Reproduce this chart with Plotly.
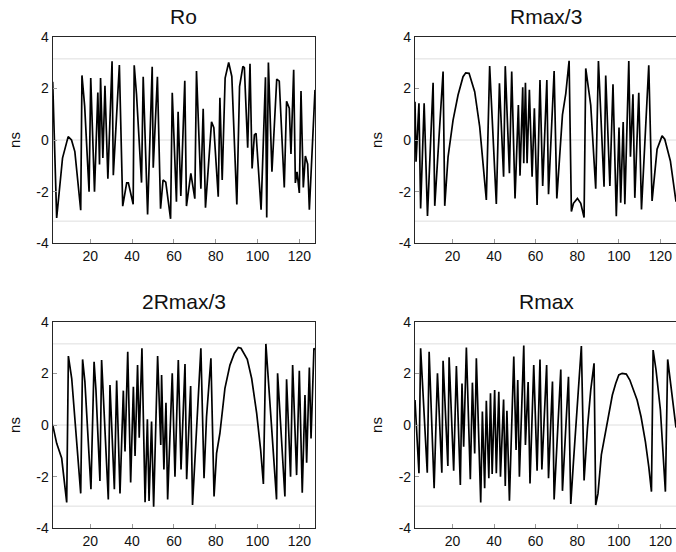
import math
import plotly.graph_objects as go

# ---------------- data ----------------
titles = ["Ro", "Rmax/3", "2Rmax/3", "Rmax"]
x_ticks = [20, 40, 60, 80, 100, 120]
y_ticks = [-4, -2, 0, 2, 4]
y_ticktext = ["-4", "-2", "0", "2", "4"]
ref_levels = [-math.pi, 0.0, math.pi]

ro_x = [2.0, 3.9, 6.7, 9.4, 11.0, 12.6, 15.4, 16.0, 17.3, 19.4, 20.2, 22.0, 23.6, 24.4, 24.9, 26.0, 27.0, 28.4,
        30.4, 31.0, 33.9, 35.5, 37.4, 38.2, 40.5, 41.0, 42.1, 44.5, 45.3, 47.4, 49.6, 50.1, 52.1, 53.6, 54.8,
        56.1, 58.4, 59.2, 61.2, 62.0, 63.3, 65.2, 66.0, 68.1, 70.0, 70.8, 72.9, 74.0, 75.1, 78.0, 79.1,
        81.2, 82.0, 83.1, 84.5, 86.2, 87.7, 90.1, 91.4, 93.0, 93.7, 95.3, 96.4, 97.4, 98.5, 99.3, 101.7, 103.8,
        104.4, 105.2, 106.9, 109.2, 110.4, 112.8, 113.9, 115.2, 116.0, 117.3, 118.1, 118.9, 120.0, 120.8, 121.9,
        122.9, 124.0, 124.8, 127.5]
ro_y = [2.25, -3.02, -0.7, 0.13, 0.0, -0.45, -2.72, 2.5, 1.3, -2.0, 2.4, -2.0, 1.84, -0.95, 2.4, -0.7, 2.1, -1.5,
        3.05, -1.36, 2.9, -2.56, -1.66, -1.66, -2.49, 2.89, 1.77, -1.65, 2.45, -2.88, 2.84, -1.07, 2.45, -2.66, -1.55,
        -1.63, -3.05, 1.83, -2.39, 1.09, -2.17, 2.29, -2.56, -1.29, -2.27, 2.67, -1.89, 1.21, -2.62, 0.7, 0.48,
        -2.2, 1.64, -1.55, 2.4, 3.0, 2.46, -2.5, 2.07, 2.85, 2.8, -0.3, 2.95, -1.1, 0.2, 0.26, -2.7, 2.43,
        -3.0, 3.0, -1.23, 2.36, 2.28, -1.84, 1.5, 1.23, -0.54, 2.72, -1.66, -1.23, -2.05, 1.9, -1.84,
        -0.62, -0.93, -2.7, 1.94]

r3_x = [2.0, 2.5, 3.9, 4.7, 6.4, 8.0, 10.7, 11.5, 15.5, 16.3, 17.9, 20.3, 22.7, 25.1, 26.4, 28.0, 30.7, 33.1,
        36.3, 37.9, 41.1, 42.6, 44.6, 45.4, 47.4, 48.5, 50.1, 51.7, 52.5, 53.8, 54.3, 55.1, 55.9, 57.0, 58.3,
        59.4, 60.7, 62.1, 63.4, 65.4, 66.2, 68.9, 70.2, 72.9, 74.5, 76.1, 77.2, 78.2, 80.1, 81.7, 83.3, 84.1,
        86.5, 88.9, 90.2, 92.9, 93.7, 95.7, 97.2, 98.8, 100.1, 100.9, 102.1, 102.9, 104.8, 105.6, 106.8, 107.7,
        109.6, 110.9, 114.4, 116.0, 118.4, 120.8, 122.1, 124.8, 127.5]
r3_y = [1.48, -0.84, 1.42, -2.65, 1.42, -2.94, 2.22, -2.55, 2.65, -2.55, -0.65, 0.77, 1.74, 2.45, 2.6, 2.58, 1.87, 0.52,
        -2.32, 2.86, -2.48, 2.2, -1.42, 2.86, -1.29, 2.65, -2.26, 1.35, -1.38, 2.04, -0.9, 2.22, -0.9, 1.94, -1.42,
        1.23, -2.52, 2.32, -1.78, 2.32, -2.1, 2.67, -2.26, 0.97, 1.8, 3.07, -2.77, -2.45, -2.26, -2.45, -3.0, 2.77,
        1.35, -1.89, 3.06, -1.81, 2.5, -1.78, 2.16, -2.95, 0.48, -2.43, 0.7, -2.49, 3.06, -0.65, 1.77, -2.24,
        1.83, -2.69, 2.89, -2.36, -0.36, 0.16, 0.03, -0.81, -2.39]

r23_x = [2.0, 3.9, 6.3, 8.7, 9.5, 11.1, 15.4, 16.3, 17.4, 20.3, 21.8, 22.7, 24.6, 25.4, 28.6, 29.4, 31.5, 32.6,
         34.2, 35.8, 36.6, 37.9, 39.3, 40.6, 41.4, 42.6, 43.4, 44.7, 46.2, 47.3, 48.1, 49.3, 50.3, 52.2, 53.7,
         54.1, 55.2, 56.2, 57.0, 59.2, 60.5, 62.1, 63.4, 65.3, 66.1, 68.0, 68.9, 70.9, 72.9, 74.4, 75.6, 77.7,
         79.2, 80.4, 82.0, 84.4, 86.8, 88.9, 90.8, 92.1, 93.2, 95.1, 97.2, 99.6, 101.5, 102.8, 104.0, 106.7,
         109.1, 109.6, 113.1, 113.9, 115.8, 116.8, 118.7, 120.0, 121.4, 122.7, 123.5, 124.8, 125.6, 127.0, 127.5]
r23_y = [0.0, -0.71, -1.29, -3.0, 2.67, 1.8, -2.65, 2.54, 1.68, -2.49, 2.45, 1.35, -2.17, 2.52, -2.88, 1.55, -2.49, 1.72,
         -2.65, 1.33, -1.03, 2.84, -2.23, 1.48, -1.2, 2.32, -0.49, 2.97, -2.99, 0.22, -2.94, 0.13, -3.16, 2.67, -0.77,
         1.94, -1.72, 0.86, -2.88, 2.0, -2.0, 2.52, -1.72, 2.36, -2.1, 1.51, -3.1, 0.19, 2.97, -2.06, 0.32, 2.58,
         -2.77, -1.1, -0.32, 1.42, 2.32, 2.77, 3.0, 2.97, 2.8, 2.54, 1.8, 0.45, -0.97, -2.28, 3.14, -0.06,
         -2.88, 2.0, -2.77, 1.77, -2.0, 2.32, -1.94, 2.1, -2.62, 1.16, -1.46, 2.23, -0.52, 2.97, 2.9]

rmax_x = [2.0, 3.9, 4.7, 7.9, 8.8, 11.2, 12.8, 14.9, 15.5, 17.8, 18.4, 20.6, 21.9, 23.8, 24.6, 25.4, 26.7, 28.6,
          29.6, 30.7, 31.5, 33.6, 34.4, 35.5, 36.3, 37.5, 38.3, 39.1, 40.3, 41.1, 42.3, 43.1, 44.6, 45.4, 46.2,
          47.4, 49.5, 50.6, 51.4, 52.2, 54.3, 55.1, 56.4, 57.3, 59.1, 60.7, 62.1, 63.0, 65.3, 66.2, 68.1, 68.9,
          72.1, 72.9, 75.8, 76.9, 78.2, 80.1, 82.0, 83.3, 84.9, 86.5, 88.1, 88.9, 90.0, 91.6, 93.7, 95.3, 96.9,
          98.5, 100.0, 101.6, 103.6, 105.3, 107.2, 108.8, 110.7, 112.8, 114.4, 115.7, 116.5, 117.9, 120.0, 122.4,
          123.5, 125.2, 127.5]
rmax_y = [0.97, -1.87, 2.97, -1.85, 2.84, -2.45, 2.0, -1.85, 2.49, -1.59, 2.62, -1.77, 2.28, -2.32, 1.61, -0.84, 3.0, -2.1,
          1.64, -1.1, 2.58, -3.0, 0.52, -2.45, 0.94, -2.06, 1.23, -1.9, 1.35, -1.87, 1.29, -2.0, 0.99, -2.36, 0.55,
          -2.93, 2.65, -0.97, 1.74, -2.0, 3.08, -0.77, 1.66, -2.26, 2.32, -1.77, 2.54, -1.72, 2.32, -2.06, 1.68, -2.88,
          2.15, -2.55, 1.87, -3.06, -1.42, 0.71, 3.06, -2.15, -0.13, 1.35, 2.39, -3.1, -2.65, -1.16, -0.19, 0.58, 1.16,
          1.61, 1.94, 2.0, 1.97, 1.74, 1.35, 0.97, 0.32, -0.65, -1.61, -2.58, 2.9, 2.13, 0.58, -2.58,
          2.54, 1.48, -0.1]

series = [(ro_x, ro_y), (r3_x, r3_y), (r23_x, r23_y), (rmax_x, rmax_y)]

# ---------------- layout ----------------
W, H = 676, 552
x_range = [2.0, 127.5]
y_range = [-4, 4]
col_dom = [[52.7 / W, 315.0 / W], [415.0 / W, 1.0]]
row_dom = [[1 - 243.3 / H, 1 - 36.7 / H], [1 - 528.3 / H, 1 - 321.7 / H]]
title_cx = [(52.7 + 315.0) / 2 / W, (415.0 + 677.3) / 2 / W]

FONT = "Liberation Sans, Arial, sans-serif"
AX_COLOR = "#262626"
GRID_COLOR = "#dedede"

fig = go.Figure()
layout = dict(
    width=W, height=H,
    margin=dict(l=0, r=0, t=0, b=0, autoexpand=False),
    paper_bgcolor="white", plot_bgcolor="white",
    showlegend=False,
    font=dict(family=FONT, size=14, color="#111"),
)
shapes = []
annotations = []

for i, (xs, ys) in enumerate(series):
    r, c = divmod(i, 2)
    n = "" if i == 0 else str(i + 1)
    xa, ya = "x" + n, "y" + n
    fig.add_trace(go.Scatter(x=xs, y=ys, mode="lines", xaxis=xa, yaxis=ya,
                             line=dict(color="black", width=1.7), hoverinfo="skip"))
    layout["xaxis" + n] = dict(
        domain=col_dom[c], anchor=ya, range=x_range, tickvals=x_ticks, automargin=False,
        ticks="inside", ticklen=4, tickcolor="#9a9a9a", showgrid=False, zeroline=False,
        showline=True, linecolor=AX_COLOR, linewidth=1.2, mirror=True,
        tickfont=dict(family=FONT, size=14, color="#111"),
    )
    layout["yaxis" + n] = dict(
        domain=row_dom[r], anchor=xa, range=y_range, tickvals=y_ticks, ticktext=y_ticktext,
        automargin=False,
        ticks="inside", ticklen=4, tickcolor="#9a9a9a", showgrid=False, zeroline=False,
        showline=True, linecolor=AX_COLOR, linewidth=1.2, mirror=(c == 0),
        tickfont=dict(family=FONT, size=14, color="#111"),
        title=dict(text="ns", font=dict(family=FONT, size=15, color="#111"), standoff=12),
    )
    for lv in ref_levels:
        shapes.append(dict(type="line", xref=xa + " domain", yref=ya, x0=0, x1=1, y0=lv, y1=lv,
                           line=dict(color=GRID_COLOR, width=1), layer="below"))
    annotations.append(dict(
        text=titles[i], xref="paper", yref="paper",
        x=title_cx[c], y=row_dom[r][1] + 20.0 / H, xanchor="center", yanchor="middle", showarrow=False,
        font=dict(family=FONT, size=21, color="#111"),
    ))

layout["shapes"] = shapes
layout["annotations"] = annotations
fig.update_layout(**layout)
fig.write_html("out.html")
